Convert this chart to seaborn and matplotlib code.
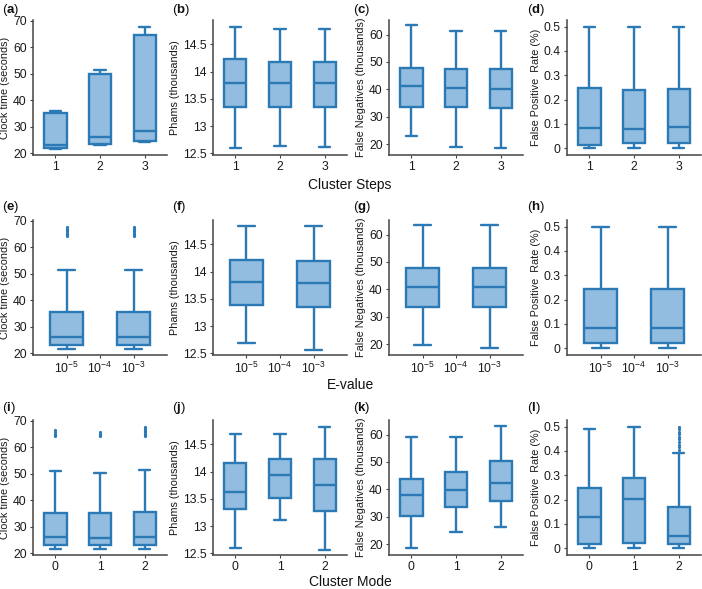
import matplotlib
matplotlib.use("Agg")
import matplotlib.pyplot as plt
import numpy as np
import pandas as pd
import seaborn as sns
from matplotlib.ticker import FuncFormatter

# ---------------- data ----------------
steps = ["1", "2", "3"]
evalues = ["1e-5", "1e-4", "1e-3"]
evalue_present = ["1e-5", "1e-3"]
evalue_labels = ["$10^{-5}$", "$10^{-4}$", "$10^{-3}$"]
modes = ["0", "1", "2"]

# five-number summaries per box: min, q1, median, q3, max
clock_steps = [[21.7, 22.0, 23.1, 35.3, 36.1],
               [23.0, 23.4, 26.0, 50.0, 51.6],
               [24.3, 24.6, 28.5, 64.7, 67.5]]
phams_steps = [[12.59, 13.35, 13.80, 14.24, 14.83],
               [12.63, 13.35, 13.79, 14.17, 14.78],
               [12.61, 13.35, 13.79, 14.17, 14.78]]
fn_steps = [[22.8, 33.4, 41.2, 47.9, 63.3],
            [19.1, 33.7, 40.5, 47.3, 61.3],
            [18.7, 33.3, 40.2, 47.3, 61.3]]
fpr_steps = [[0.0, 0.014, 0.082, 0.247, 0.50],
             [0.0, 0.021, 0.078, 0.241, 0.50],
             [0.0, 0.021, 0.088, 0.243, 0.50]]

clock_evalue = [[21.75, 23.25, 26.0, 35.5, 51.5],
                [21.75, 23.2, 26.0, 35.5, 51.5]]
phams_evalue = [[12.69, 13.38, 13.81, 14.21, 14.84],
                [12.57, 13.35, 13.79, 14.19, 14.84]]
fn_evalue = [[19.5, 33.5, 40.9, 47.7, 63.5],
             [18.7, 33.5, 40.7, 47.7, 63.5]]
fpr_evalue = [[0.0, 0.020, 0.082, 0.242, 0.50],
              [0.0, 0.020, 0.083, 0.245, 0.50]]
clock_evalue_out = [[64.2, 64.6, 65.0, 65.5, 66.0, 66.5, 67.0, 67.5],
                    [64.2, 64.6, 65.0, 65.5, 66.0, 66.5, 67.0, 67.5]]

clock_mode = [[21.75, 23.25, 26.0, 35.3, 51.1],
              [21.75, 23.25, 25.9, 35.3, 50.5],
              [21.75, 23.25, 26.0, 35.5, 51.6]]
phams_mode = [[12.59, 13.31, 13.62, 14.16, 14.70],
              [13.11, 13.52, 13.94, 14.24, 14.70],
              [12.57, 13.28, 13.76, 14.23, 14.83]]
fn_mode = [[18.7, 30.4, 37.8, 43.9, 59.0],
           [24.5, 33.4, 39.6, 46.2, 59.0],
           [26.3, 35.8, 42.2, 50.2, 63.2]]
fpr_mode = [[0.0, 0.019, 0.130, 0.249, 0.492],
            [0.0, 0.022, 0.204, 0.287, 0.500],
            [0.0, 0.018, 0.050, 0.168, 0.393]]
clock_mode_out = [[64.2, 64.7, 65.2, 65.8, 66.4],
                  [64.2, 64.7, 65.2, 65.8],
                  [64.2, 64.6, 65.1, 65.6, 66.1, 66.6, 67.1, 67.6]]
fpr_mode_out = [[], [],
                [0.404, 0.414, 0.424, 0.436, 0.447, 0.458, 0.468, 0.478, 0.489, 0.498]]

row_titles = ["Cluster Steps", "E-value", "Cluster Mode"]
ylabels = ["Clock time (seconds)", "Phams (thousands)",
           "False Negatives (thousands)", "False Positive  Rate (%)"]
panel_letters = list("abcdefghijkl")

# ---------------- style ----------------
sns.set_theme(style="white")
plt.rcParams["font.family"] = ["Liberation Sans", "DejaVu Sans"]
plt.rcParams["mathtext.fontset"] = "custom"
plt.rcParams["mathtext.rm"] = "Liberation Sans"
plt.rcParams["mathtext.bf"] = "Liberation Sans:bold"
plt.rcParams["mathtext.it"] = "Liberation Sans:italic"

EDGE = "#2b79b5"
FACE = "#92bde0"
SPINE = "#444444"

W, H = 702, 589
fig = plt.figure(figsize=(W / 100, H / 100), dpi=100)

col_left = [33, 213, 389, 567]
ax_w = 134
row_top = [20, 220, 420]
ax_h = 135

ylims = [(19.4, 70.3), (12.47, 14.95), (16.0, 65.3), (-0.028, 0.527)]
yticks = [[20, 30, 40, 50, 60, 70], [12.5, 13, 13.5, 14, 14.5],
          [20, 30, 40, 50, 60], [0, 0.1, 0.2, 0.3, 0.4, 0.5]]

rows = [
    (steps, steps, steps, [clock_steps, phams_steps, fn_steps, fpr_steps],
     [None, None, None, None], 0.5, (-0.5, 2.5)),
    (evalues, evalue_present, evalue_labels,
     [clock_evalue, phams_evalue, fn_evalue, fpr_evalue],
     [clock_evalue_out, None, None, None], 0.98, (-1.0, 3.0)),
    (modes, modes, modes, [clock_mode, phams_mode, fn_mode, fpr_mode],
     [clock_mode_out, None, None, fpr_mode_out], 0.5, (-0.5, 2.5)),
]

fmt = FuncFormatter(lambda v, p: f"{v:g}")

for r, (order, cats, ticklabels, stats_list, out_list, bw, xlim) in enumerate(rows):
    for c in range(4):
        left = col_left[c] / W
        bottom = 1 - (row_top[r] + ax_h) / H
        ax = fig.add_axes([left, bottom, ax_w / W, ax_h / H])
        recs = [(cat, v) for cat, s in zip(cats, stats_list[c]) for v in s]
        df = pd.DataFrame(recs, columns=["cat", "val"])
        sns.boxplot(data=df, x="cat", y="val", order=order, whis=(0, 100),
                    width=bw, showfliers=False, saturation=1, color=FACE,
                    linecolor=EDGE, linewidth=1.7, ax=ax)
        outs = out_list[c]
        if outs is not None:
            orecs = [(cat, v) for cat, s in zip(cats, outs) for v in s]
            if orecs:
                odf = pd.DataFrame(orecs, columns=["cat", "val"])
                sns.stripplot(data=odf, x="cat", y="val", order=order,
                              jitter=False, color=EDGE, size=2.3,
                              linewidth=0, ax=ax)
        ax.set_xlim(*xlim)
        ax.set_ylim(*ylims[c])
        ax.set_yticks(yticks[c])
        ax.yaxis.set_major_formatter(fmt)
        ax.set_xticks(range(len(order)))
        ax.set_xticklabels(ticklabels)
        ax.set_xlabel("")
        ax.set_ylabel(ylabels[c], fontsize=7.8, color="#1a1a1a", labelpad=2)
        for s in ["top", "right"]:
            ax.spines[s].set_visible(False)
        for s in ["left", "bottom"]:
            ax.spines[s].set_color(SPINE)
            ax.spines[s].set_linewidth(1.1)
        ax.tick_params(axis="both", length=2.5, width=0.8, color=SPINE,
                       labelsize=8.8, labelcolor="#1a1a1a", pad=2,
                       left=True, bottom=True)
        letter = panel_letters[r * 4 + c]
        lx = [2, 172, 353, 527][c]
        ly = [10, 207, 408][r]
        fig.text(lx / W, 1 - ly / H, "($\\mathbf{%s}$)" % letter,
                 fontsize=9.5, ha="left", va="center", color="#111111")
    fig.text(350 / W, 1 - [185, 385, 582][r] / H, row_titles[r],
             fontsize=10, ha="center", va="center", color="#111111")

fig.savefig("out.png", dpi=100)
